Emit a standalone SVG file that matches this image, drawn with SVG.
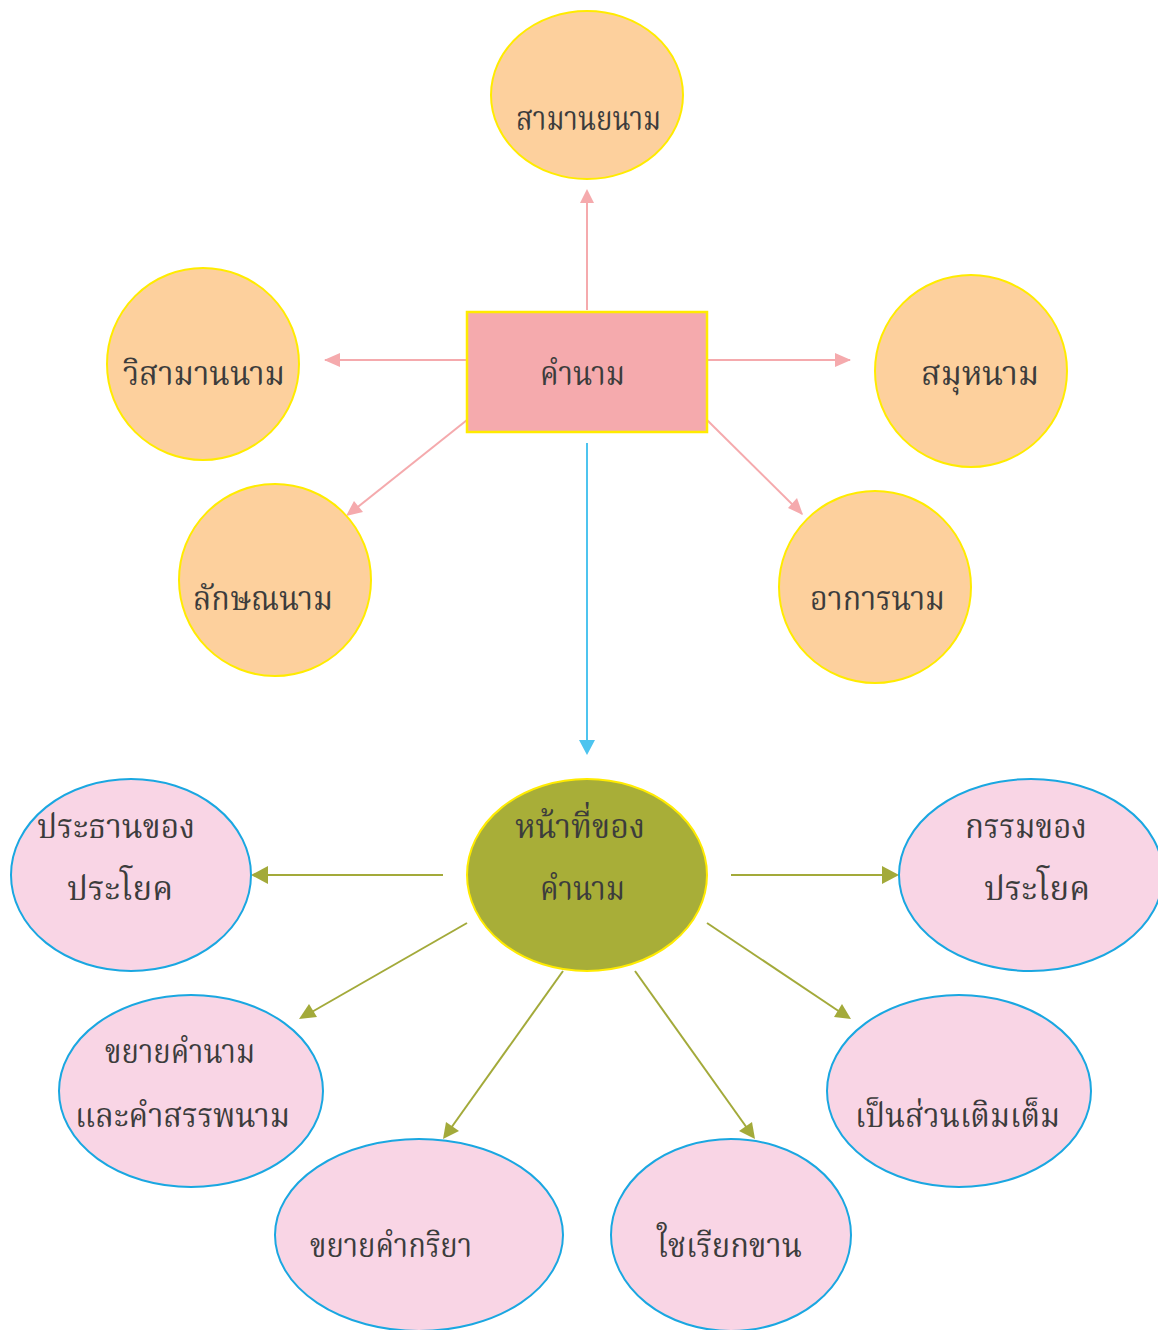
<svg xmlns="http://www.w3.org/2000/svg" width="1158" height="1330" viewBox="0 0 1158 1330">
<style>
.or{fill:#FDD09D;stroke:#FFEB00;stroke-width:2}
.bx{fill:#F5AAAD;stroke:#FFEB00;stroke-width:2.5}
.gr{fill:#A8AE38;stroke:#FFEB00;stroke-width:2}
.pk{fill:#F9D5E5;stroke:#1AA7E1;stroke-width:2}
.t{font-family:"Noto Serif Thai","Noto Sans Thai Looped","Noto Sans Thai","Noto Sans",sans-serif;font-size:34px;fill:#3C3C3C}
</style>
<rect width="1158" height="1330" fill="#FFFFFF"/>
<g id="connectors">
<line x1="587" y1="310" x2="587" y2="200" stroke="#F5AAAD" stroke-width="2"/>
<path d="M580,203L587,189L594,203z" fill="#F5AAAD"/>
<line x1="467" y1="360" x2="325" y2="360" stroke="#F5AAAD" stroke-width="2"/>
<path d="M340,353L324,360L340,367z" fill="#F5AAAD"/>
<line x1="707" y1="360" x2="850" y2="360" stroke="#F5AAAD" stroke-width="2"/>
<path d="M835,353L851,360L835,367z" fill="#F5AAAD"/>
<line x1="467" y1="420" x2="349" y2="514" stroke="#F5AAAD" stroke-width="2"/>
<path d="M346,516L354,501L363,512z" fill="#F5AAAD"/>
<line x1="707" y1="420" x2="802" y2="514" stroke="#F5AAAD" stroke-width="2"/>
<path d="M803,515L788,508L797,498z" fill="#F5AAAD"/>
<line x1="587" y1="443" x2="587" y2="742" stroke="#4DC4EF" stroke-width="2"/>
<path d="M579,740L587,755L595,740z" fill="#4DC4EF"/>
<line x1="443" y1="875" x2="264" y2="875" stroke="#A3AA3A" stroke-width="2"/>
<path d="M268,866L251,875L268,884z" fill="#A3AA3A"/>
<line x1="731" y1="875" x2="886" y2="875" stroke="#A3AA3A" stroke-width="2"/>
<path d="M882,866L899,875L882,884z" fill="#A3AA3A"/>
<line x1="467" y1="923" x2="310" y2="1013" stroke="#A3AA3A" stroke-width="2"/>
<path d="M299,1019L309,1004L317,1017z" fill="#A3AA3A"/>
<line x1="563" y1="971" x2="451" y2="1128" stroke="#A3AA3A" stroke-width="2"/>
<path d="M443,1139L446,1122L459,1131z" fill="#A3AA3A"/>
<line x1="635" y1="971" x2="747" y2="1128" stroke="#A3AA3A" stroke-width="2"/>
<path d="M755,1139L739,1131L752,1122z" fill="#A3AA3A"/>
<line x1="707" y1="923" x2="840" y2="1012" stroke="#A3AA3A" stroke-width="2"/>
<path d="M851,1019L834,1017L842,1004z" fill="#A3AA3A"/>
</g>
<g id="n-samanyanam"><ellipse class="or" cx="587" cy="95" rx="96" ry="84"/><text class="t" x="516" y="130" textLength="145" lengthAdjust="spacingAndGlyphs">สามานยนาม</text></g>
<g id="n-wisamannam"><circle class="or" cx="203" cy="364" r="96"/><text class="t" x="123" y="385" textLength="162" lengthAdjust="spacingAndGlyphs">วิสามานนาม</text></g>
<g id="n-khamnam"><rect class="bx" x="467" y="312" width="240" height="120"/><text class="t" x="540" y="385" textLength="85" lengthAdjust="spacingAndGlyphs">คำนาม</text></g>
<g id="n-samuhanam"><circle class="or" cx="971" cy="371" r="96"/><text class="t" x="921" y="385" textLength="118" lengthAdjust="spacingAndGlyphs">สมุหนาม</text></g>
<g id="n-laksananam"><circle class="or" cx="275" cy="580" r="96"/><text class="t" x="193" y="610" textLength="140" lengthAdjust="spacingAndGlyphs">ลักษณนาม</text></g>
<g id="n-akannam"><circle class="or" cx="875" cy="587" r="96"/><text class="t" x="810" y="610" textLength="135" lengthAdjust="spacingAndGlyphs">อาการนาม</text></g>
<g id="n-nathi"><ellipse class="gr" cx="587" cy="875" rx="120" ry="96"/><text class="t" x="515" y="838" textLength="130" lengthAdjust="spacingAndGlyphs">หน้าที่ของ</text><text class="t" x="540" y="900" textLength="85" lengthAdjust="spacingAndGlyphs">คำนาม</text></g>
<g id="n-prathan"><ellipse class="pk" cx="131" cy="875" rx="120" ry="96"/><text class="t" x="37" y="838" textLength="158" lengthAdjust="spacingAndGlyphs">ประธานของ</text><text class="t" x="67" y="900" textLength="106" lengthAdjust="spacingAndGlyphs">ประโยค</text></g>
<g id="n-kam"><ellipse class="pk" cx="1031" cy="875" rx="132" ry="96"/><text class="t" x="965" y="838" textLength="122" lengthAdjust="spacingAndGlyphs">กรรมของ</text><text class="t" x="984" y="900" textLength="106" lengthAdjust="spacingAndGlyphs">ประโยค</text></g>
<g id="n-khayainam"><ellipse class="pk" cx="191" cy="1091" rx="132" ry="96"/><text class="t" x="105" y="1063" textLength="150" lengthAdjust="spacingAndGlyphs">ขยายคำนาม</text><text class="t" x="75" y="1127" textLength="215" lengthAdjust="spacingAndGlyphs">และคำสรรพนาม</text></g>
<g id="n-toemtem"><ellipse class="pk" cx="959" cy="1091" rx="132" ry="96"/><text class="t" x="855" y="1127" textLength="205" lengthAdjust="spacingAndGlyphs">เป็นส่วนเติมเต็ม</text></g>
<g id="n-khayakriya"><ellipse class="pk" cx="419" cy="1235" rx="144" ry="96"/><text class="t" x="310" y="1257" textLength="162" lengthAdjust="spacingAndGlyphs">ขยายคำกริยา</text></g>
<g id="n-riakkhan"><ellipse class="pk" cx="731" cy="1235" rx="120" ry="96"/><text class="t" x="657" y="1257" textLength="145" lengthAdjust="spacingAndGlyphs">ใชเรียกขาน</text></g>
</svg>
